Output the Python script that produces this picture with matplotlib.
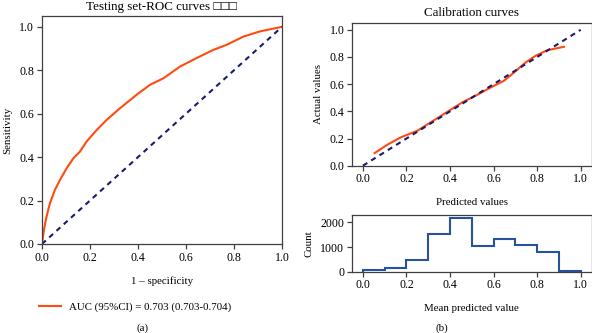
import matplotlib
matplotlib.use('Agg')
import matplotlib.pyplot as plt

plt.rcParams['font.family'] = ['Liberation Serif', 'DejaVu Sans']
plt.rcParams['font.size'] = 7.8

# ROC curve
roc_fpr = [0.0, 0.008, 0.019, 0.033, 0.054, 0.075, 0.103, 0.131, 0.158, 0.186, 0.228,
           0.269, 0.325, 0.394, 0.45, 0.506, 0.575, 0.644, 0.714, 0.769, 0.839, 0.908, 1.0]
roc_tpr = [0.0, 0.065, 0.126, 0.187, 0.249, 0.295, 0.349, 0.395, 0.425, 0.472, 0.525,
           0.571, 0.625, 0.687, 0.733, 0.763, 0.817, 0.856, 0.894, 0.917, 0.955, 0.979, 1.0]
auc_label = 'AUC (95%CI) = 0.703 (0.703-0.704)'

# calibration curve
cal_pred = [0.054, 0.112, 0.173, 0.25, 0.311, 0.372, 0.456, 0.525, 0.587, 0.648,
            0.694, 0.747, 0.793, 0.847, 0.923]
cal_true = [0.093, 0.154, 0.208, 0.257, 0.319, 0.38, 0.466, 0.522, 0.576, 0.625,
            0.686, 0.76, 0.809, 0.85, 0.875]

# histogram of predicted values
bin_edges = [0.0, 0.1, 0.2, 0.3, 0.4, 0.5, 0.6, 0.7, 0.8, 0.9, 1.0]
bin_counts = [60, 130, 467, 1533, 2173, 1040, 1320, 1067, 813, 20]

ticks = [0.0, 0.2, 0.4, 0.6, 0.8, 1.0]
orange = '#ff4a12'
navy = '#1a1a6e'
spine_col = '#404040'

fig = plt.figure(figsize=(5.92, 3.33), dpi=100)
ax1 = fig.add_axes([0.0709, 0.2673, 0.4054, 0.6847])
ax2 = fig.add_axes([0.5946, 0.5024, 0.4047, 0.4285])
ax3 = fig.add_axes([0.5946, 0.1841, 0.4047, 0.1688])

for ax in (ax1, ax2, ax3):
    for s in ax.spines.values():
        s.set_color(spine_col)
        s.set_linewidth(0.9)
    ax.tick_params(direction='out', length=3.5, width=0.9, color=spine_col,
                   pad=2, labelsize=8.6)

# (a) ROC
ax1.plot(roc_fpr, roc_tpr, color=orange, lw=1.5, label=auc_label)
ax1.plot([0, 1], [0, 1], color=navy, lw=1.5, ls='--', dashes=(2.5, 2.2))
ax1.set_xlim(0, 1)
ax1.set_ylim(0, 1.05)
ax1.set_xticks(ticks)
ax1.set_yticks(ticks)
ax1.set_xlabel('1 – specificity', labelpad=9)
ax1.set_ylabel('Sensitivity', labelpad=5)
ax1.set_title('Testing set-ROC curves □□□', pad=4)
fig.legend(handles=ax1.get_lines()[:1], loc='center left',
           bbox_to_anchor=(0.066, 0.078), frameon=False, borderpad=0,
           borderaxespad=0, handlelength=2.0, fontsize=7.8)

# (b) calibration
ax2.plot(cal_pred, cal_true, color=orange, lw=1.5)
ax2.plot([0, 1], [0, 1], color=navy, lw=1.5, ls='--', dashes=(2.5, 2.2))
ax2.set_xlim(-0.05, 1.05)
ax2.set_ylim(0, 1.05)
ax2.set_xticks(ticks)
ax2.set_yticks(ticks)
ax2.set_xlabel('Predicted values', labelpad=9)
ax2.set_ylabel('Actual values', labelpad=5)
ax2.set_title('Calibration curves', pad=5)

ax3.stairs(bin_counts, bin_edges, color='#2553a0', lw=1.5)
ax3.set_xlim(-0.05, 1.05)
ax3.set_ylim(0, 2280)
ax3.set_xticks(ticks)
ax3.set_yticks([0, 1000, 2000])
ax3.set_xlabel('Mean predicted value', labelpad=9)
ax3.set_ylabel('Count', labelpad=5)

fig.text(0.24, 0.015, '(a)', ha='center', va='center')
fig.text(0.747, 0.015, '(b)', ha='center', va='center')

fig.savefig('out.png', dpi=100)
